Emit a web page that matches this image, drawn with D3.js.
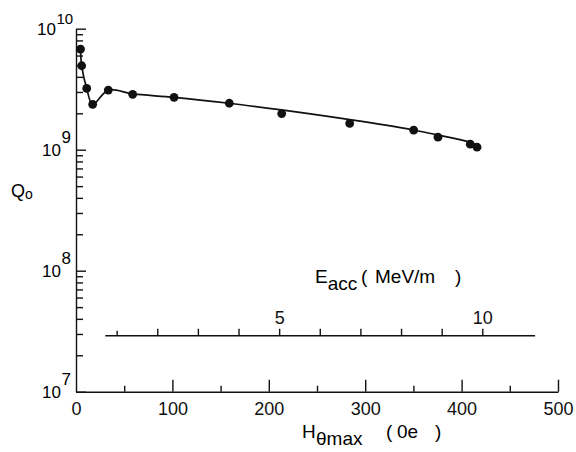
<!DOCTYPE html>
<html>
<head>
<meta charset="utf-8">
<script src="https://cdn.jsdelivr.net/npm/d3@7"></script>
<style>
  body { margin: 0; background: #fff; }
  svg { display: block; font-family: "Liberation Sans", Arial, sans-serif; }
  .axis path, .axis line { stroke: #111; stroke-width: 1.4; }
  .axis text { fill: #111; font-size: 18px; font-family: "Liberation Sans", Arial, sans-serif; }
</style>
</head>
<body>
<svg width="576" height="452"></svg>
<script>
// measured points
let pointH = [4.7, 5.9, 11.1, 17.3, 33.5, 58.8, 101.7, 159, 213.4, 283.9, 350.3, 375.5, 409, 416];
let pointQ = [6.79e9, 4.94e9, 3.21e9, 2.37e9, 3.11e9, 2.87e9, 2.71e9, 2.42e9, 1.99e9, 1.65e9, 1.45e9, 1.27e9, 1.11e9, 1.05e9];

// drawn curve
let curveH = [4.7, 5.9, 11.1, 17.3, 33.5, 58.8, 101.7, 159, 213, 284, 350, 376, 409, 416];
let curveQ = [6.79e9, 4.94e9, 3.21e9, 2.37e9, 3.11e9, 2.89e9, 2.71e9, 2.42e9, 2.13e9, 1.77e9, 1.455e9, 1.32e9, 1.15e9, 1.08e9];

let hTicks = [0, 50, 100, 150, 200, 250, 300, 350, 400, 450, 500];
let decades = [1e7, 1e8, 1e9, 1e10];
let eTicks = [1, 2, 3, 4, 5, 6, 7, 8, 9, 10];
let eLabels = [5, 10];
let eExtent = [0.72, 11.3];
let eAxisQ = 2.9e7;

let svg = d3.select("svg");

let x = d3.scaleLinear().domain([0, 500]).range([76, 558]),
    y = d3.scaleLog().domain([1e7, 1e10]).range([391.7, 28.7]),
    e = d3.scaleLinear().domain([0, 10]).range([76, 482.3]);

// minor log ticks
let yTicks = [];
decades.forEach(function(d) {
    for (let k = 1; k < 10; k++) {
        if (d * k <= 1e10) yTicks.push(d * k);
    }
});

// bottom axis, ticks pointing up
let gx = svg.append("g")
    .attr("class", "axis")
    .attr("transform", "translate(0," + y(1e7) + ")")
    .call(d3.axisBottom(x)
        .tickValues(hTicks)
        .tickSize(-12)
        .tickSizeOuter(0)
        .tickPadding(11)
        .tickFormat(function(d) { return d % 100 === 0 ? d : ""; }));
gx.selectAll(".tick line").attr("y2", function(d) { return d % 100 === 0 ? -12 : -6; });
gx.selectAll(".tick").filter(function(d) { return d === 0; }).select("line").remove();

// left axis, ticks pointing right
let gy = svg.append("g")
    .attr("class", "axis")
    .attr("transform", "translate(" + x(0) + ",0)")
    .call(d3.axisLeft(y)
        .tickValues(yTicks)
        .tickSize(-7)
        .tickSizeOuter(0)
        .tickFormat(""));
gy.selectAll(".tick line").attr("x2", function(d) { return decades.indexOf(d) >= 0 ? 10 : 7; });

// decade labels
decades.forEach(function(d) {
    let p = Math.round(Math.log10(d));
    let top = p === 10;
    svg.append("text")
        .attr("x", top ? 56 : 61)
        .attr("y", y(d) + 6.5)
        .attr("text-anchor", "end")
        .style("font-size", "17px")
        .text("10");
    svg.append("text")
        .attr("x", top ? 56.5 : 61.5)
        .attr("y", y(d) - (top ? 5 : 7))
        .style("font-size", top ? "15px" : "17px")
        .text(p);
});

// E_acc secondary scale
let yE = y(eAxisQ);
let ge = svg.append("g")
    .attr("class", "axis")
    .attr("transform", "translate(0," + yE + ")")
    .call(d3.axisTop(e)
        .tickValues(eTicks)
        .tickSize(7)
        .tickSizeOuter(0)
        .tickPadding(5)
        .tickFormat(function(d) { return eLabels.indexOf(d) >= 0 ? d : ""; }));
ge.select(".domain").attr("d", "M" + e(eExtent[0]) + ",0H" + e(eExtent[1]));
ge.selectAll(".tick line").attr("y2", function(d) { return d === 1 ? -5 : -7; });

// curve
let line = d3.line()
    .curve(d3.curveCatmullRom)
    .x(function(d) { return x(d[0]); })
    .y(function(d) { return y(d[1]); });

svg.append("path")
    .datum(d3.zip(curveH, curveQ))
    .attr("d", line)
    .attr("fill", "none")
    .attr("stroke", "#111")
    .attr("stroke-width", 1.7);

svg.selectAll(".dot")
    .data(d3.zip(pointH, pointQ))
    .enter().append("circle")
    .attr("class", "dot")
    .attr("cx", function(d) { return x(d[0]); })
    .attr("cy", function(d) { return y(d[1]); })
    .attr("r", 4.4)
    .attr("fill", "#111");

// axis titles
let qLabel = svg.append("text").attr("x", 11).attr("y", 197).style("font-size", "18px");
qLabel.append("tspan").text("Q");
qLabel.append("tspan").attr("dy", 2).style("font-size", "14px").text("o");

let eLabel = svg.append("text").attr("y", 283).style("font-size", "19px");
eLabel.append("tspan").attr("x", 315).text("E");
eLabel.append("tspan").attr("dy", 7).text("acc");
eLabel.append("tspan").attr("x", 361).attr("dy", -7).text("(");
eLabel.append("tspan").attr("x", 375).text("MeV/m");
eLabel.append("tspan").attr("x", 455).text(")");

let hLabel = svg.append("text").attr("y", 438).style("font-size", "19px");
hLabel.append("tspan").attr("x", 302).text("H");
hLabel.append("tspan").attr("x", 316).attr("dy", 7).text("θmax");
hLabel.append("tspan").attr("x", 386).attr("dy", -7).text("(");
hLabel.append("tspan").attr("x", 397).text("0e");
hLabel.append("tspan").attr("x", 435).text(")");
</script>
</body>
</html>
